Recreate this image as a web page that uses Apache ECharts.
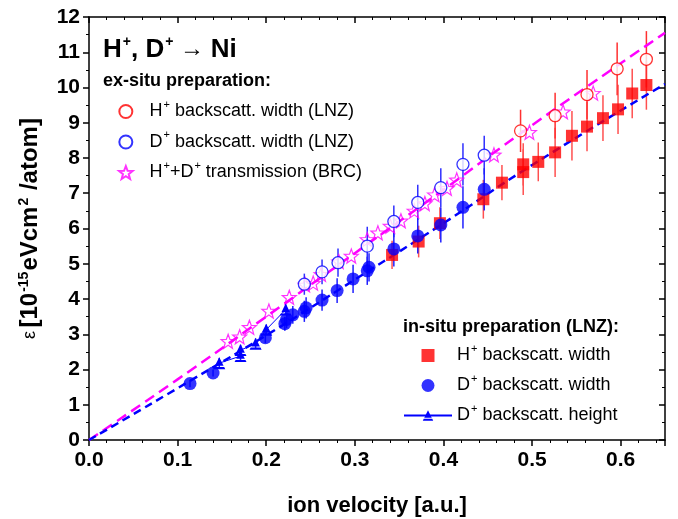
<!DOCTYPE html>
<html>
<head>
<meta charset="utf-8">
<script src="https://cdn.jsdelivr.net/npm/echarts@6/dist/echarts.min.js"></script>
<style>
  html, body { margin: 0; padding: 0; background: #fff; }
  #chart { width: 678px; height: 519px; }
</style>
</head>
<body>
<div id="chart"></div>
<script>
// [velocity, epsilon, error]
const hExSitu = [
  [0.487, 8.77, 0.6], [0.526, 9.2, 0.65], [0.562, 9.8, 0.7], [0.596, 10.53, 0.75], [0.629, 10.8, 0.8]
]
const dExSitu = [
  [0.243, 4.42, 0.3], [0.263, 4.77, 0.35], [0.281, 5.03, 0.4], [0.314, 5.5, 0.55], [0.344, 6.2, 0.45],
  [0.371, 6.74, 0.5], [0.397, 7.16, 0.55], [0.422, 7.82, 0.6], [0.446, 8.08, 0.55]
]
const transmission = [
  [0.157, 2.8], [0.17, 2.93], [0.181, 3.2], [0.203, 3.66], [0.226, 4.05], [0.244, 4.4], [0.253, 4.45],
  [0.262, 4.7], [0.282, 5.06], [0.296, 5.22], [0.314, 5.69], [0.326, 5.88], [0.34, 6.07], [0.352, 6.22],
  [0.367, 6.5], [0.379, 6.71], [0.39, 6.96], [0.404, 7.14], [0.415, 7.38], [0.457, 8.09], [0.497, 8.73],
  [0.535, 9.31], [0.569, 9.84]
]
const hInSitu = [
  [0.342, 5.25, 0.4], [0.372, 5.63, 0.45], [0.396, 6.15, 0.45], [0.445, 6.83, 0.55], [0.466, 7.3, 0.5],
  [0.49, 7.6, 0.65], [0.49, 7.82, 0.6], [0.507, 7.89, 0.55], [0.526, 8.16, 0.7], [0.545, 8.63, 0.7],
  [0.562, 8.89, 0.7], [0.58, 9.13, 0.65], [0.597, 9.38, 0.7], [0.613, 9.83, 0.7], [0.629, 10.07, 0.7]
]
const dInSitu = [
  [0.114, 1.6, 0.1], [0.14, 1.9, 0.1], [0.199, 2.9, 0.15], [0.221, 3.3, 0.2], [0.223, 3.42, 0.25],
  [0.23, 3.55, 0.25], [0.243, 3.65, 0.3], [0.245, 3.75, 0.3], [0.263, 3.97, 0.3], [0.28, 4.24, 0.35],
  [0.298, 4.57, 0.4], [0.314, 4.8, 0.4], [0.316, 4.9, 0.4], [0.344, 5.42, 0.5], [0.371, 5.79, 0.5],
  [0.397, 6.1, 0.5], [0.422, 6.6, 0.6], [0.446, 7.11, 0.6]
]
const dHeight = [
  [0.147, 2.18, 0.15], [0.171, 2.38, 0.15], [0.171, 2.55, 0.15], [0.188, 2.73, 0.15], [0.2, 3.13, 0.15], [0.222, 3.7, 0.15]
]
// dashed guide curves
const hLine = [[0, 0], [0.1, 1.72], [0.2, 3.5], [0.3, 5.3], [0.4, 7.1], [0.5, 8.93], [0.65, 11.55]]
const dLine = [[0, 0], [0.1, 1.47], [0.2, 2.97], [0.3, 4.55], [0.4, 6.15], [0.5, 7.8], [0.65, 10.1]]

const FONT = '"Liberation Sans", Arial, sans-serif'

const starPath = (() => {
  const pts = []
  for (let k = 0; k < 10; k++) {
    const r = k % 2 === 0 ? 10 : 4.2
    const a = (-90 + k * 36) * Math.PI / 180
    pts.push((10 + r * Math.cos(a)).toFixed(2) + ',' + (10 + r * Math.sin(a)).toFixed(2))
  }
  return 'path://M' + pts.join('L') + 'Z'
})()
const squarePath = 'path://M0,0L10,0L10,10L0,10Z'
const halfTriangle = 'path://M5,0L8.6,7.2L1.4,7.2Z M0.9,8.2L9.1,8.2L10,10L0,10Z'

const errorBars = (name, data, color) => ({
  name,
  type: 'custom',
  z: 1,
  silent: true,
  data,
  renderItem: (params, api) => {
    const x = api.value(0), y = api.value(1), e = api.value(2)
    const p1 = api.coord([x, y - e])
    const p2 = api.coord([x, y + e])
    return {
      type: 'line',
      shape: { x1: p1[0], y1: p1[1], x2: p2[0], y2: p2[1] },
      style: { stroke: color, lineWidth: 1.5 }
    }
  }
})

const rich = {
  n: { fontSize: 18, fontFamily: FONT, color: '#000' },
  s: { fontSize: 11, fontFamily: FONT, color: '#000', padding: [0, 0, 14, 1] }
}
const legendLabels = {
  hEx: '  {n|H}{s|+}{n| backscatt. width (LNZ)}',
  dEx: '  {n|D}{s|+}{n| backscatt. width (LNZ)}',
  tr: '  {n|H}{s|+}{n|+D}{s|+}{n| transmission (BRC)}',
  hIn: '{n|H}{s|+}{n| backscatt. width}',
  dIn: '{n|D}{s|+}{n| backscatt. width}',
  dH: '{n|D}{s|+}{n| backscatt. height}'
}

const chart = echarts.init(document.getElementById('chart'))
const axisCommon = {
  type: 'value',
  axisLine: { show: true, onZero: false, lineStyle: { color: '#000', width: 1.5 } },
  splitLine: { show: false }
}
const tickFont = { fontSize: 21, fontWeight: 'bold', fontFamily: FONT, color: '#000' }

chart.setOption({
  animation: false,
  backgroundColor: '#fff',
  grid: { left: 89, right: 13, top: 17, bottom: 79, containLabel: false, outerBoundsMode: 'none' },
  title: [
    {
      text: '{b|H}{s|+}{b|, D}{s|+}{a| → }{b|Ni}',
      left: 98, top: 30,
      textStyle: {
        rich: {
          b: { fontSize: 26, fontWeight: 'bold', fontFamily: FONT, color: '#000' },
          a: { fontSize: 24, fontFamily: FONT, color: '#000' },
          s: { fontSize: 14, fontWeight: 'bold', fontFamily: FONT, color: '#000', padding: [0, 0, 15, 1] }
        }
      }
    },
    {
      text: 'ex-situ preparation:',
      left: 98, top: 67,
      textStyle: { fontSize: 18, fontWeight: 'bold', fontFamily: FONT, color: '#000' }
    },
    {
      text: 'in-situ preparation (LNZ):',
      left: 398, top: 313,
      textStyle: { fontSize: 18, fontWeight: 'bold', fontFamily: FONT, color: '#000' }
    }
  ],
  legend: [
    {
      data: ['hEx', 'dEx', 'tr'],
      orient: 'vertical',
      left: 113, top: 94,
      itemWidth: 24, itemHeight: 13, itemGap: 8,
      selectedMode: false,
      formatter: (name) => legendLabels[name],
      textStyle: { rich, lineHeight: 20 }
    },
    {
      data: ['hIn', 'dIn', 'dH'],
      orient: 'vertical',
      left: 398, top: 338,
      itemWidth: 48, itemHeight: 13, itemGap: 7.5,
      selectedMode: false,
      formatter: (name) => legendLabels[name],
      textStyle: { rich, lineHeight: 20 }
    }
  ],
  xAxis: [
    {
      ...axisCommon,
      min: 0, max: 0.65, interval: 0.1,
      name: 'ion velocity [a.u.]',
      nameLocation: 'middle', nameGap: 55,
      nameTextStyle: { fontSize: 22, fontWeight: 'bold', fontFamily: FONT, color: '#000' },
      axisTick: { length: 6, lineStyle: { color: '#000', width: 1.5 } },
      minorTick: { show: true, splitNumber: 5, length: 3, lineStyle: { color: '#000', width: 1 } },
      axisLabel: {
        ...tickFont, margin: 10,
        formatter: (v) => v.toFixed(1),
        showMaxLabel: false
      }
    },
    {
      ...axisCommon,
      position: 'top',
      min: 0, max: 0.65, interval: 0.1,
      axisTick: { inside: true, length: 6, lineStyle: { color: '#000', width: 1.5 } },
      minorTick: { show: true, splitNumber: 5, length: 3, lineStyle: { color: '#000', width: 1 } },
      axisLabel: { show: false }
    }
  ],
  yAxis: [
    {
      ...axisCommon,
      min: 0, max: 12, interval: 1,
      name: '{e|ε} {b|[10}{s|-15}{b|eVcm}{s|2}{b| /atom]}',
      nameLocation: 'middle', nameGap: 45,
      nameTextStyle: {
        rich: {
          e: { fontSize: 18, fontFamily: FONT, color: '#000' },
          b: { fontSize: 24, fontWeight: 'bold', fontFamily: FONT, color: '#000' },
          s: { fontSize: 14, fontWeight: 'bold', fontFamily: FONT, color: '#000', padding: [0, 1, 13, 1] }
        }
      },
      axisTick: { length: 6, lineStyle: { color: '#000', width: 1.5 } },
      minorTick: { show: true, splitNumber: 2, length: 3, lineStyle: { color: '#000', width: 1 } },
      axisLabel: { ...tickFont, margin: 9 }
    },
    {
      ...axisCommon,
      position: 'right',
      min: 0, max: 12, interval: 1,
      axisTick: { inside: true, length: 6, lineStyle: { color: '#000', width: 1.5 } },
      minorTick: { show: true, splitNumber: 2, length: 3, lineStyle: { color: '#000', width: 1 } },
      axisLabel: { show: false }
    }
  ],
  series: [
    {
      name: 'hLine', type: 'line', data: hLine, smooth: true, showSymbol: false, z: 1,
      lineStyle: { color: '#ff00ff', width: 2.5, type: [11, 6] }
    },
    {
      name: 'dLine', type: 'line', data: dLine, smooth: true, showSymbol: false, z: 1,
      lineStyle: { color: '#0000ff', width: 2.5, type: [8, 5] }
    },
    errorBars('hInErr', hInSitu, '#ff5050'),
    errorBars('hExErr', hExSitu, '#ff3030'),
    errorBars('dExErr', dExSitu, '#3030ff'),
    errorBars('dInErr', dInSitu, '#2020ff'),
    errorBars('dHErr', dHeight, '#2020ff'),
    {
      name: 'hIn', type: 'scatter', data: hInSitu, symbol: squarePath, symbolSize: 12, z: 3,
      itemStyle: { color: '#ff0000' }
    },
    {
      name: 'tr', type: 'scatter', data: transmission, symbol: starPath, symbolSize: 14, z: 3,
      itemStyle: { color: 'rgba(255,255,255,0)', borderColor: '#ff00ff', borderWidth: 1.2 }
    },
    {
      name: 'hEx', type: 'scatter', data: hExSitu, symbol: 'circle', symbolSize: 12, z: 4,
      itemStyle: { color: '#fff', borderColor: '#ff0000', borderWidth: 1.3 }
    },
    {
      name: 'dEx', type: 'scatter', data: dExSitu, symbol: 'circle', symbolSize: 12, z: 4,
      itemStyle: { color: '#fff', borderColor: '#0000ff', borderWidth: 1.3 }
    },
    {
      name: 'dIn', type: 'scatter', data: dInSitu, symbol: 'circle', symbolSize: 13, z: 5,
      itemStyle: { color: '#0000ff' }
    },
    {
      name: 'dH', type: 'line', data: dHeight, symbol: halfTriangle, symbolSize: 12, showAllSymbol: true, z: 5,
      lineStyle: { color: '#0000ff', width: 1 },
      itemStyle: { color: '#0000ff' }
    }
  ]
})
</script>
</body>
</html>
